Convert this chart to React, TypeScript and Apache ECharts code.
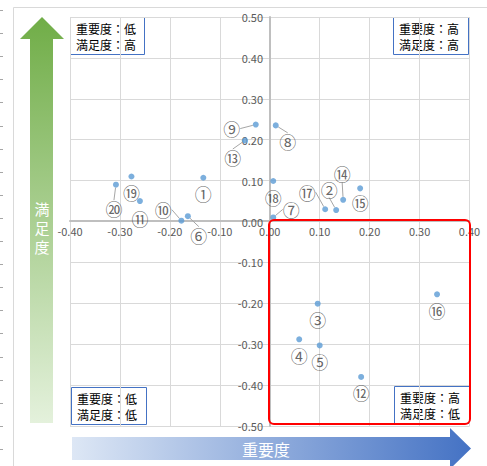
import React, { useEffect, useRef } from 'react';
import * as echarts from 'echarts';

// ---- data ----
const itemLabels = ['①', '②', '③', '④', '⑤', '⑥', '⑦', '⑧', '⑨', '⑩', '⑪', '⑫', '⑬', '⑭', '⑮', '⑯', '⑰', '⑱', '⑲', '⑳'];
const importance = [-0.133, 0.133, 0.096, 0.059, 0.100, -0.164, 0.007, 0.012, -0.028, -0.177, -0.260, 0.183, -0.050, 0.147, 0.181, 0.335, 0.111, 0.007, -0.277, -0.308];
const satisfaction = [0.107, 0.028, -0.201, -0.288, -0.303, 0.013, 0.010, 0.235, 0.237, 0.002, 0.050, -0.380, 0.198, 0.053, 0.081, -0.178, 0.030, 0.099, 0.110, 0.090];
const xRange = [-0.4, 0.4];
const yRange = [-0.5, 0.5];
const tickStep = 0.1;
const quadrantTexts = ['重要度：低\n満足度：高', '重要度：高\n満足度：高', '重要度：低\n満足度：低', '重要度：高\n満足度：低'];
const xAxisTitle = '重要度';
const yAxisTitle = '満足度';

// ---- label layout (offset of label centre from its point, px) ----
const labelOffsets: [number, number][] = [
  [0, 16], [-7, -21], [0, 16], [0, 16], [0, 16], [11, 19], [18, -8], [12, 16], [-24, 4], [-18, -11],
  [0, 17], [0, 16], [-12, 17], [-1, -26], [0, 14], [0, 16], [-18, -17], [0, 16], [0, 16], [-2, 24],
];
const hasLeader = [false, true, false, false, false, true, true, true, true, true, false, false, true, true, false, false, true, false, false, true];

const FONT = '"Noto Sans CJK JP", "Noto Sans", sans-serif';

export default function App() {
  const ref = useRef<HTMLDivElement>(null);
  useEffect(() => {
    if (!ref.current) return;
    const chart = echarts.init(ref.current, null, { renderer: 'svg' });

    const data = importance.map((x, i) => ({
      value: [x, satisfaction[i]],
      name: itemLabels[i],
      labelLine: { show: hasLeader[i] },
    }));

    const dashes: any[] = [];
    for (let k = 0; k < 20; k++) {
      const y = Math.round(10 + k * 23.1) + 0.5;
      dashes.push({ type: 'line', shape: { x1: 0, y1: y, x2: 3, y2: y }, style: { stroke: '#a6a6a6', lineWidth: 1 }, silent: true });
    }

    const box = (x: number, y: number, w: number, h: number, text: string) => ({
      type: 'group',
      children: [
        { type: 'rect', shape: { x: x + 0.5, y: y + 0.5, width: w, height: h }, style: { fill: '#ffffff', stroke: '#4472c4', lineWidth: 1 } },
        { type: 'text', x: x + 6, y: y + h / 2 + 1, style: { text, font: `12px ${FONT}`, fill: '#000000', lineHeight: 16, verticalAlign: 'middle', align: 'left' } },
      ],
      z: 100,
    });

    const vertChars = yAxisTitle.split('').map((ch, i) => ({
      type: 'text', x: 42, y: 208 + i * 19,
      style: { text: ch, font: `15px ${FONT}`, fill: '#ffffff', align: 'center', verticalAlign: 'middle', lineHeight: 15 },
      z: 50,
    }));

    chart.setOption({
      animation: false,
      backgroundColor: '#ffffff',
      grid: { left: 70, right: 17.5, top: 17, bottom: 40 },
      xAxis: {
        type: 'value',
        position: 'bottom',
        offset: -205,
        min: xRange[0],
        max: xRange[1],
        interval: tickStep,
        axisLine: { show: true, onZero: false, lineStyle: { color: '#bfbfbf', width: 2 } },
        axisTick: { show: false },
        axisLabel: { margin: 4, fontSize: 11, color: '#595959', fontFamily: FONT, formatter: (v: number) => v.toFixed(2) },
        splitLine: { show: true, lineStyle: { color: '#d9d9d9', width: 1 } },
      },
      yAxis: {
        type: 'value',
        position: 'left',
        offset: -200,
        min: yRange[0],
        max: yRange[1],
        interval: tickStep,
        axisLine: { show: true, onZero: false, lineStyle: { color: '#bfbfbf', width: 2 } },
        axisTick: { show: false },
        axisLabel: { margin: 7, fontSize: 11, color: '#595959', fontFamily: FONT, formatter: (v: number) => v.toFixed(2) },
        splitLine: { show: true, lineStyle: { color: '#d9d9d9', width: 1 } },
      },
      series: [
        {
          type: 'scatter',
          symbolSize: 6,
          itemStyle: { color: '#5b9bd5' },
          data,
          label: {
            show: true,
            position: 'inside',
            formatter: (p: any) => p.name,
            fontSize: 17,
            color: '#404040',
            fontFamily: FONT,
          },
          labelLine: { show: false, lineStyle: { color: '#a6a6a6', width: 1 } },
          labelLayout: (p: any) => ({ dx: labelOffsets[p.dataIndex][0], dy: labelOffsets[p.dataIndex][1] }),
          z: 5,
        },
      ],
      graphic: [
        { type: 'rect', shape: { x: 13.5, y: 7.5, width: 500, height: 500 }, style: { fill: 'none', stroke: '#d9d9d9', lineWidth: 1 }, silent: true, z: -1 },
        ...dashes,
        {
          type: 'polygon',
          shape: { points: [[42, 17], [64, 39], [53, 39], [53, 423], [30, 423], [30, 39], [20, 39]] },
          style: {
            fill: new echarts.graphic.LinearGradient(0, 0, 0, 1, [
              { offset: 0, color: '#70ad47' },
              { offset: 1, color: '#e4f1dc' },
            ]),
          },
        },
        ...vertChars,
        {
          type: 'polygon',
          shape: { points: [[72, 437], [450, 437], [450, 428], [471, 448.5], [450, 469], [450, 460], [72, 460]] },
          style: {
            fill: new echarts.graphic.LinearGradient(0, 0, 1, 0, [
              { offset: 0, color: '#dde7f5' },
              { offset: 1, color: '#4472c4' },
            ]),
          },
        },
        {
          type: 'text', x: 266, y: 449,
          style: { text: xAxisTitle, font: `16px ${FONT}`, fill: '#ffffff', align: 'center', verticalAlign: 'middle' },
          z: 50,
        },
        box(70, 17, 74, 37, quadrantTexts[0]),
        box(393, 17, 75, 37, quadrantTexts[1]),
        box(71, 387, 75, 37, quadrantTexts[2]),
        box(394, 386, 75, 37, quadrantTexts[3]),
        {
          type: 'rect',
          shape: { x: 269, y: 220, width: 201, height: 204, r: 5 },
          style: { fill: 'none', stroke: '#ff0000', lineWidth: 2 },
          z: 120,
          silent: true,
        },
      ],
    });
    return () => chart.dispose();
  }, []);
  return <div ref={ref} style={{ position: 'fixed', left: 0, top: 0, width: 487, height: 466 }} />;
}
